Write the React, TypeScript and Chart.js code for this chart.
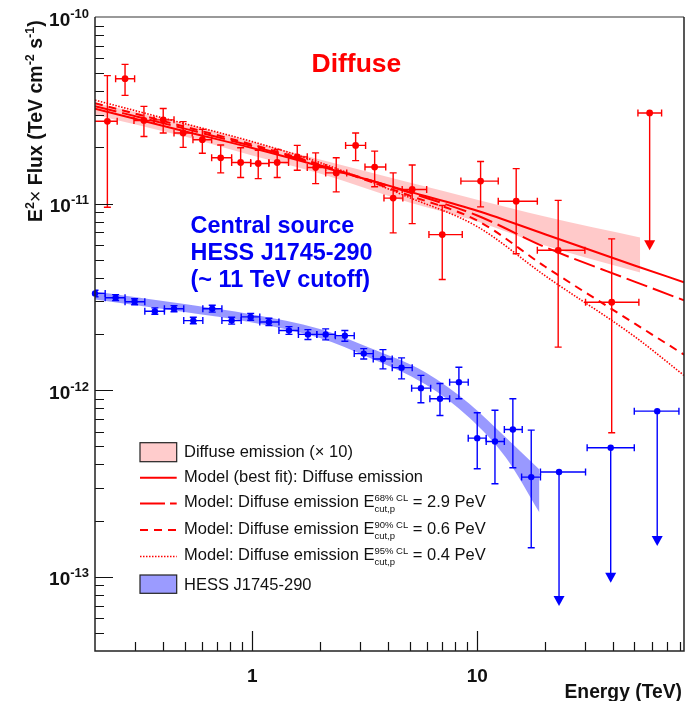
import { useEffect, useRef } from 'react';
import { Chart, registerables } from 'chart.js';

Chart.register(...registerables);

const FONT = '"Liberation Sans", Arial, Helvetica, sans-serif';
const RED = 'rgb(255,0,0)';
const BLUE = 'rgb(0,0,255)';

// Axis ranges (TeV, TeV cm^-2 s^-1)
const xMin = 0.2;
const xMax = 83;
const yMin = 4e-14;
const yMax = 1e-10;

// Tick labels
const xTickLabels = [1, 10];
const yTickExponents = [-10, -11, -12, -13];

// Diffuse emission (x 10): measured points
const diffuseE = [0.227, 0.272, 0.33, 0.402, 0.493, 0.6, 0.724, 0.888, 1.063, 1.291, 1.585, 1.913, 2.362, 2.881, 3.5, 4.23, 5.14, 6.99, 10.35, 14.9, 22.9, 39.6];
const diffuseFlux = [2.76e-11, 4.67e-11, 2.79e-11, 2.81e-11, 2.39e-11, 2.2e-11, 1.76e-11, 1.66e-11, 1.64e-11, 1.66e-11, 1.78e-11, 1.56e-11, 1.46e-11, 2.05e-11, 1.57e-11, 1.07e-11, 1.19e-11, 6.82e-12, 1.32e-11, 1.03e-11, 5.62e-12, 2.96e-12];
const diffuseFluxLo = [9.55e-12, 3.8e-11, 2.29e-11, 2.39e-11, 2.0e-11, 1.86e-11, 1.46e-11, 1.38e-11, 1.36e-11, 1.38e-11, 1.51e-11, 1.28e-11, 1.155e-11, 1.7e-11, 1.23e-11, 6.97e-12, 7.81e-12, 3.92e-12, 9.6e-12, 5.38e-12, 1.7e-12, 5.91e-13];
const diffuseFluxHi = [4.85e-11, 5.57e-11, 3.32e-11, 3.23e-11, 2.75e-11, 2.5e-11, 2.06e-11, 1.99e-11, 1.93e-11, 1.95e-11, 2.05e-11, 1.87e-11, 1.76e-11, 2.39e-11, 1.91e-11, 1.46e-11, 1.61e-11, 9.76e-12, 1.68e-11, 1.54e-11, 1.04e-11, 6.47e-12];
const diffuseELo = [0.19, 0.247, 0.298, 0.366, 0.449, 0.545, 0.66, 0.81, 0.984, 1.186, 1.45, 1.756, 2.12, 2.6, 3.17, 3.85, 4.64, 6.1, 8.46, 12.4, 18.5, 30.3];
const diffuseEHi = [0.251, 0.3, 0.366, 0.449, 0.541, 0.66, 0.81, 0.984, 1.186, 1.45, 1.756, 2.12, 2.63, 3.19, 3.92, 4.67, 5.96, 8.58, 12.4, 18.5, 30.1, 52.3];

// Diffuse emission: upper limit
const diffuseUlE = [58.4];
const diffuseUlFlux = [3.06e-11];
const diffuseUlTip = [5.62e-12];
const diffuseUlELo = [51.8];
const diffuseUlEHi = [66.0];

// HESS J1745-290: measured points
const hessE = [0.2, 0.247, 0.3, 0.369, 0.449, 0.547, 0.664, 0.81, 0.984, 1.186, 1.456, 1.768, 2.12, 2.58, 3.13, 3.81, 4.61, 5.62, 6.83, 8.29, 10.0, 11.99, 14.4, 17.38];
const hessFlux = [3.3e-12, 3.13e-12, 2.98e-12, 2.65e-12, 2.73e-12, 2.36e-12, 2.73e-12, 2.36e-12, 2.47e-12, 2.32e-12, 2.09e-12, 1.99e-12, 1.99e-12, 1.96e-12, 1.57e-12, 1.47e-12, 1.32e-12, 1.025e-12, 8.99e-13, 1.104e-12, 5.53e-13, 5.31e-13, 6.16e-13, 3.42e-13];
const hessFluxLo = [3.17e-12, 3.02e-12, 2.87e-12, 2.55e-12, 2.63e-12, 2.27e-12, 2.62e-12, 2.26e-12, 2.37e-12, 2.22e-12, 1.99e-12, 1.87e-12, 1.86e-12, 1.83e-12, 1.47e-12, 1.3e-12, 1.15e-12, 8.56e-13, 7.32e-13, 8.99e-13, 3.79e-13, 3.15e-13, 3.84e-13, 1.43e-13];
const hessFluxHi = [3.43e-12, 3.25e-12, 3.09e-12, 2.76e-12, 2.84e-12, 2.46e-12, 2.85e-12, 2.46e-12, 2.58e-12, 2.43e-12, 2.19e-12, 2.11e-12, 2.13e-12, 2.09e-12, 1.67e-12, 1.65e-12, 1.49e-12, 1.2e-12, 1.086e-12, 1.328e-12, 7.57e-13, 7.81e-13, 8.99e-13, 6.11e-13];
const hessELo = [0.18, 0.222, 0.272, 0.333, 0.407, 0.496, 0.603, 0.733, 0.893, 1.08, 1.314, 1.604, 1.936, 2.34, 2.84, 3.45, 4.19, 5.11, 6.16, 7.54, 9.12, 10.96, 13.2, 15.75];
const hessEHi = [0.222, 0.272, 0.333, 0.407, 0.496, 0.603, 0.733, 0.893, 1.08, 1.314, 1.604, 1.936, 2.34, 2.84, 3.45, 4.19, 5.14, 6.21, 7.54, 9.12, 10.96, 13.2, 15.85, 19.1];

// HESS J1745-290: upper limits
const hessUlE = [23.1, 39.2, 63.1];
const hessUlFlux = [3.64e-13, 4.91e-13, 7.72e-13];
const hessUlTip = [6.97e-14, 9.3e-14, 1.46e-13];
const hessUlELo = [19.1, 30.8, 49.9];
const hessUlEHi = [30.3, 49.9, 78.8];

// Model curves for the diffuse emission
const modelE = [0.2, 0.5, 1, 2, 5, 10, 20, 50, 83];
const modelBestFit = [3.227e-11, 2.443e-11, 1.985e-11, 1.586e-11, 1.159e-11, 9.15e-12, 6.85e-12, 4.66e-12, 3.79e-12];
const modelCut68 = [3.327e-11, 2.522e-11, 2.032e-11, 1.608e-11, 1.145e-11, 8.63e-12, 5.85e-12, 3.82e-12, 3.03e-12];
const modelCut90 = [3.453e-11, 2.585e-11, 2.07e-11, 1.618e-11, 1.104e-11, 8.11e-12, 4.6e-12, 2.28e-12, 1.55e-12];
const modelCut95 = [3.584e-11, 2.683e-11, 2.148e-11, 1.658e-11, 1.077e-11, 7.53e-12, 4.11e-12, 1.94e-12, 1.2e-12];

// Confidence bands
const diffuseBandE = [0.2, 0.5, 1, 2, 5, 10, 20, 53];
const diffuseBandHi = [3.475e-11, 2.683e-11, 2.148e-11, 1.721e-11, 1.296e-11, 1.05e-11, 8.52e-12, 6.58e-12];
const diffuseBandLo = [2.997e-11, 2.285e-11, 1.808e-11, 1.448e-11, 1.012e-11, 8.01e-12, 5.96e-12, 4.27e-12];
const hessBandE = [0.2, 0.5, 1, 2, 3.3, 5.9, 9.2, 13.4, 18.9];
const hessBandHi = [3.379e-12, 2.895e-12, 2.544e-12, 2.127e-12, 1.693e-12, 1.244e-12, 8.49e-13, 5.58e-13, 3.76e-13];
const hessBandLo = [3.061e-12, 2.624e-12, 2.305e-12, 1.904e-12, 1.497e-12, 1.072e-12, 7.14e-13, 4.36e-13, 2.21e-13];

const DASH_LONG = [22, 6];
const DASH_SHORT = [8, 6];
const DASH_DOT = [1.5, 1.5];

const toPoints = (xs: number[], ys: number[]) => xs.map((x, i) => ({ x, y: ys[i] }));

type Seg = { text: string; size: number; bold?: boolean; dy?: number };

function drawRich(ctx: CanvasRenderingContext2D, x: number, y: number, segs: Seg[]) {
  let cx = x;
  for (const s of segs) {
    ctx.font = `${s.bold ? 'bold ' : ''}${s.size}px ${FONT}`;
    ctx.fillText(s.text, cx, y + (s.dy ?? 0));
    cx += ctx.measureText(s.text).width;
  }
  return cx;
}

// Error bars and upper-limit arrows, drawn just beneath each marker dataset
const errorBarPlugin = {
  id: 'errorBars',
  beforeDatasetDraw(chart: any, args: any) {
    const ds: any = chart.data.datasets[args.index];
    const eb = ds.errorBars;
    if (!eb) return;
    const { ctx, chartArea: a } = chart;
    const sx = chart.scales.x;
    const sy = chart.scales.y;
    ctx.save();
    ctx.beginPath();
    ctx.rect(a.left, a.top, a.right - a.left, a.bottom - a.top);
    ctx.clip();
    ctx.strokeStyle = eb.color;
    ctx.fillStyle = eb.color;
    ctx.lineWidth = 1.4;
    const cap = 3.5;
    ds.data.forEach((p: any, i: number) => {
      const px = sx.getPixelForValue(p.x);
      const py = sy.getPixelForValue(p.y);
      const xl = sx.getPixelForValue(eb.xLo[i]);
      const xr = sx.getPixelForValue(eb.xHi[i]);
      ctx.beginPath();
      ctx.moveTo(xl, py);
      ctx.lineTo(xr, py);
      ctx.moveTo(xl, py - cap);
      ctx.lineTo(xl, py + cap);
      ctx.moveTo(xr, py - cap);
      ctx.lineTo(xr, py + cap);
      if (eb.yLo) {
        const yt = sy.getPixelForValue(eb.yHi[i]);
        const yb = sy.getPixelForValue(eb.yLo[i]);
        ctx.moveTo(px, yt);
        ctx.lineTo(px, yb);
        ctx.moveTo(px - cap, yt);
        ctx.lineTo(px + cap, yt);
        ctx.moveTo(px - cap, yb);
        ctx.lineTo(px + cap, yb);
      }
      if (eb.tip) {
        const yt = sy.getPixelForValue(eb.tip[i]);
        ctx.moveTo(px, py);
        ctx.lineTo(px, yt - 8);
      }
      ctx.stroke();
      if (eb.tip) {
        const yt = sy.getPixelForValue(eb.tip[i]);
        ctx.beginPath();
        ctx.moveTo(px - 5.5, yt - 10);
        ctx.lineTo(px + 5.5, yt - 10);
        ctx.lineTo(px, yt);
        ctx.closePath();
        ctx.fill();
      }
    });
    ctx.restore();
  },
};

// Frame, inside ticks, tick labels, titles, annotations and legend
const decorPlugin = {
  id: 'decor',
  afterDraw(chart: any) {
    const { ctx, chartArea: a } = chart;
    const sx = chart.scales.x;
    const sy = chart.scales.y;
    ctx.save();

    // ticks
    ctx.strokeStyle = '#111';
    ctx.lineWidth = 1.2;
    ctx.beginPath();
    for (let e = -14; e <= -10; e++) {
      for (let m = 1; m <= 9; m++) {
        const v = m * Math.pow(10, e);
        if (v < yMin * 1.001 || v > yMax * 0.999) continue;
        const py = Math.round(sy.getPixelForValue(v)) + 0.5;
        ctx.moveTo(a.left, py);
        ctx.lineTo(a.left + (m === 1 ? 18 : 9), py);
      }
    }
    for (let e = -1; e <= 1; e++) {
      for (let m = 1; m <= 9; m++) {
        const v = m * Math.pow(10, e);
        if (v < xMin * 1.001 || v > xMax * 0.999) continue;
        const px = Math.round(sx.getPixelForValue(v)) + 0.5;
        ctx.moveTo(px, a.bottom);
        ctx.lineTo(px, a.bottom - (m === 1 ? 20 : 9));
      }
    }
    ctx.stroke();

    // frame
    ctx.lineWidth = 1.5;
    ctx.strokeStyle = '#777';
    ctx.beginPath();
    ctx.moveTo(a.left, a.top);
    ctx.lineTo(a.right, a.top);
    ctx.stroke();
    ctx.strokeStyle = '#222';
    ctx.beginPath();
    ctx.moveTo(a.right, a.top);
    ctx.lineTo(a.right, a.bottom);
    ctx.lineTo(a.left, a.bottom);
    ctx.lineTo(a.left, a.top);
    ctx.stroke();

    // tick labels
    ctx.fillStyle = '#111';
    ctx.textBaseline = 'alphabetic';
    for (const ex of yTickExponents) {
      const py = sy.getPixelForValue(Math.pow(10, ex));
      ctx.textAlign = 'right';
      ctx.font = `bold 13px ${FONT}`;
      const sup = String(ex);
      const w = ctx.measureText(sup).width;
      ctx.fillText(sup, 89, py + 0.5);
      ctx.font = `bold 19px ${FONT}`;
      ctx.fillText('10', 89 - w, py + 8.5);
    }
    ctx.textAlign = 'center';
    ctx.font = `bold 19px ${FONT}`;
    for (const v of xTickLabels) {
      ctx.fillText(String(v), sx.getPixelForValue(v), 681.5);
    }

    // axis titles
    ctx.textAlign = 'right';
    ctx.font = `bold 19.3px ${FONT}`;
    ctx.fillText('Energy (TeV)', 682, 697.5);

    ctx.textAlign = 'left';
    ctx.save();
    ctx.translate(42, 222);
    ctx.rotate(-Math.PI / 2);
    drawRich(ctx, 0, 0, [
      { text: 'E', size: 19.5, bold: true },
      { text: '2', size: 12.5, bold: true, dy: -8 },
      { text: '\u00d7', size: 19.5 },
      { text: ' Flux (TeV cm', size: 19.5, bold: true },
      { text: '-2', size: 12.5, bold: true, dy: -8 },
      { text: ' s', size: 19.5, bold: true },
      { text: '-1', size: 12.5, bold: true, dy: -8 },
      { text: ')', size: 19.5, bold: true },
    ]);
    ctx.restore();

    // annotations
    ctx.fillStyle = RED;
    ctx.font = `bold 26.5px ${FONT}`;
    ctx.fillText('Diffuse', 311.5, 71.7);
    ctx.fillStyle = 'rgb(0,0,245)';
    ctx.font = `bold 23.4px ${FONT}`;
    ctx.fillText('Central source', 190.5, 233);
    ctx.fillText('HESS J1745-290', 190.5, 260);
    ctx.fillText('(~ 11 TeV cutoff)', 190.5, 287);

    // legend
    const lx = 140;
    const lw = 36.7;
    const tx = 184;
    const fs = 16.5;
    ctx.lineWidth = 1.2;
    ctx.strokeStyle = '#222';
    ctx.fillStyle = 'rgb(255,204,204)';
    ctx.fillRect(lx, 442.7, lw, 19);
    ctx.strokeRect(lx, 442.7, lw, 19);
    ctx.fillStyle = 'rgb(155,155,255)';
    ctx.fillRect(lx, 575, lw, 18.3);
    ctx.strokeRect(lx, 575, lw, 18.3);

    const sample = (y: number, dash: number[], width: number) => {
      ctx.save();
      ctx.strokeStyle = RED;
      ctx.lineWidth = width;
      ctx.setLineDash(dash);
      ctx.beginPath();
      ctx.moveTo(lx, y);
      ctx.lineTo(lx + lw, y);
      ctx.stroke();
      ctx.restore();
    };
    sample(477.7, [], 2);
    sample(503.5, [25, 5], 2);
    sample(530, DASH_SHORT, 2);
    sample(556.5, DASH_DOT, 1.6);

    ctx.fillStyle = '#111';
    ctx.font = `${fs}px ${FONT}`;
    ctx.fillText('Diffuse emission (\u00d7 10)', tx, 456.7);
    ctx.fillText('Model (best fit): Diffuse emission', tx, 481.7);
    const cutRow = (y: number, cl: string, val: string) => {
      ctx.font = `${fs}px ${FONT}`;
      const t = 'Model: Diffuse emission E';
      ctx.fillText(t, tx, y);
      const ex = tx + ctx.measureText(t).width;
      ctx.font = `9.5px ${FONT}`;
      ctx.fillText(cl, ex, y - 6);
      const w1 = ctx.measureText(cl).width;
      ctx.fillText('cut,p', ex, y + 5);
      const w2 = ctx.measureText('cut,p').width;
      ctx.font = `${fs}px ${FONT}`;
      ctx.fillText(' = ' + val, ex + Math.max(w1, w2), y);
    };
    cutRow(507.3, '68% CL', '2.9 PeV');
    cutRow(534.3, '90% CL', '0.6 PeV');
    cutRow(560, '95% CL', '0.4 PeV');
    ctx.font = `${fs}px ${FONT}`;
    ctx.fillText('HESS J1745-290', tx, 590);

    ctx.restore();
  },
};

export default function App() {
  const ref = useRef<HTMLCanvasElement>(null);

  useEffect(() => {
    const canvas = ref.current;
    if (!canvas) return;

    const bandLine = (xs: number[], ys: number[], fill: any, color: string) => ({
      type: 'line' as const,
      data: toPoints(xs, ys),
      borderColor: 'transparent',
      borderWidth: 0,
      pointRadius: 0,
      fill,
      backgroundColor: color,
      cubicInterpolationMode: 'monotone' as const,
      order: 10,
    });

    const modelLine = (ys: number[], dash: number[], width: number) => ({
      type: 'line' as const,
      data: toPoints(modelE, ys),
      borderColor: RED,
      borderWidth: width,
      borderDash: dash,
      pointRadius: 0,
      fill: false,
      cubicInterpolationMode: 'monotone' as const,
      order: 5,
    });

    const markers = (xs: number[], ys: number[], color: string, errorBars: any, radius: number) => ({
      type: 'line' as const,
      data: toPoints(xs, ys),
      showLine: false,
      pointRadius: radius,
      pointBackgroundColor: color,
      pointBorderColor: color,
      pointBorderWidth: 0,
      clip: false,
      errorBars,
      order: 1,
    });

    const chart = new Chart(canvas, {
      type: 'line',
      data: {
        datasets: [
          bandLine(diffuseBandE, diffuseBandHi, false, 'transparent'),
          bandLine(diffuseBandE, diffuseBandLo, '-1', 'rgba(255,0,0,0.21)'),
          bandLine(hessBandE, hessBandHi, false, 'transparent'),
          bandLine(hessBandE, hessBandLo, '-1', 'rgba(0,0,255,0.4)'),
          modelLine(modelBestFit, [], 2),
          modelLine(modelCut68, DASH_LONG, 2),
          modelLine(modelCut90, DASH_SHORT, 2),
          modelLine(modelCut95, DASH_DOT, 1.6),
          markers(diffuseE, diffuseFlux, RED, { color: RED, xLo: diffuseELo, xHi: diffuseEHi, yLo: diffuseFluxLo, yHi: diffuseFluxHi }, 3.4),
          markers(diffuseUlE, diffuseUlFlux, RED, { color: RED, xLo: diffuseUlELo, xHi: diffuseUlEHi, tip: diffuseUlTip }, 3.4),
          markers(hessE, hessFlux, BLUE, { color: BLUE, xLo: hessELo, xHi: hessEHi, yLo: hessFluxLo, yHi: hessFluxHi }, 3.2),
          markers(hessUlE, hessUlFlux, BLUE, { color: BLUE, xLo: hessUlELo, xHi: hessUlEHi, tip: hessUlTip }, 3.2),
        ] as any,
      },
      options: {
        responsive: false,
        animation: false,
        devicePixelRatio: 1,
        events: [],
        layout: { padding: { left: 95, right: 8, top: 17, bottom: 50 } },
        plugins: { legend: { display: false }, tooltip: { enabled: false } },
        scales: {
          x: { type: 'logarithmic', min: xMin, max: xMax, display: false },
          y: { type: 'logarithmic', min: yMin, max: yMax, display: false },
        },
      },
      plugins: [errorBarPlugin, decorPlugin],
    });

    return () => chart.destroy();
  }, []);

  return (
    <div style={{ position: 'absolute', left: 0, top: 0, width: 692, height: 701, background: '#fff' }}>
      <canvas ref={ref} width={692} height={701} />
    </div>
  );
}
